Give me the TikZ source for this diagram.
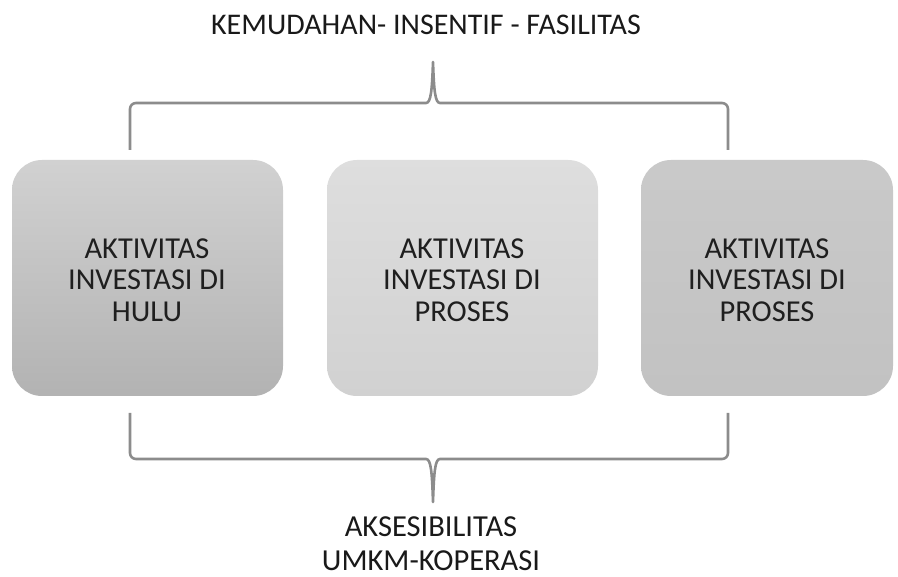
\documentclass[tikz,border=0pt]{standalone}
\usepackage{fontspec}
\setmainfont{Carlito}
\begin{document}
\begin{tikzpicture}[x=1pt,y=-1pt,
  boxtxt/.style={align=center,font=\fontsize{30.4}{31.5}\selectfont,text=black!88},
  brace/.style={draw=black!45,line width=2.6pt,line join=round},
  lbl/.style={align=center,font=\fontsize{30.5}{34}\selectfont,text=black!90,inner sep=0pt}]
\useasboundingbox (0,0) rectangle (898,577);
\clip (0,0) rectangle (898,577);
% boxes
\shade[top color=black!18,bottom color=black!30,rounded corners=30pt] (12,160) rectangle (283,396);
\shade[top color=black!13,bottom color=black!18,rounded corners=30pt] (327,160) rectangle (598,396);
\shade[top color=black!21,bottom color=black!24,rounded corners=30pt] (641,160) rectangle (893,396);
\node[boxtxt] (b1) at (147,280) {AKTIVITAS\\INVESTASI DI\\HULU};
\node[boxtxt] (b2) at (462,280) {AKTIVITAS\\INVESTASI DI\\PROSES};
\node[boxtxt] (b3) at (767,280) {AKTIVITAS\\INVESTASI DI\\PROSES};
% top label and brace
\node[lbl,font=\fontsize{30}{34}\selectfont] (top) at (426,25) {KEMUDAHAN- INSENTIF - FASILITAS};
\coordinate (tl) at (130,150);
\coordinate (tr) at (728,150);
\coordinate (tt) at (433,62);
\draw[brace] (tl) -- (130,109) to[out=90,in=180] (136,103) -- (426,103)
  .. controls (431,103) and (432,90) .. (tt)
  .. controls (434,90) and (435,103) .. (440,103) -- (722,103) to[out=0,in=90] (728,109) -- (tr);
% bottom brace and label
\coordinate (bl) at (130,413);
\coordinate (br) at (728,413);
\coordinate (bt) at (433,502);
\draw[brace] (bl) -- (130,453) to[out=-90,in=180] (136,459) -- (426,459)
  .. controls (431,459) and (432,472) .. (bt)
  .. controls (434,472) and (435,459) .. (440,459) -- (722,459) to[out=0,in=-90] (728,453) -- (br);
\node[lbl] (bot) at (431,544) {AKSESIBILITAS\\UMKM-KOPERASI};
\end{tikzpicture}
\end{document}
